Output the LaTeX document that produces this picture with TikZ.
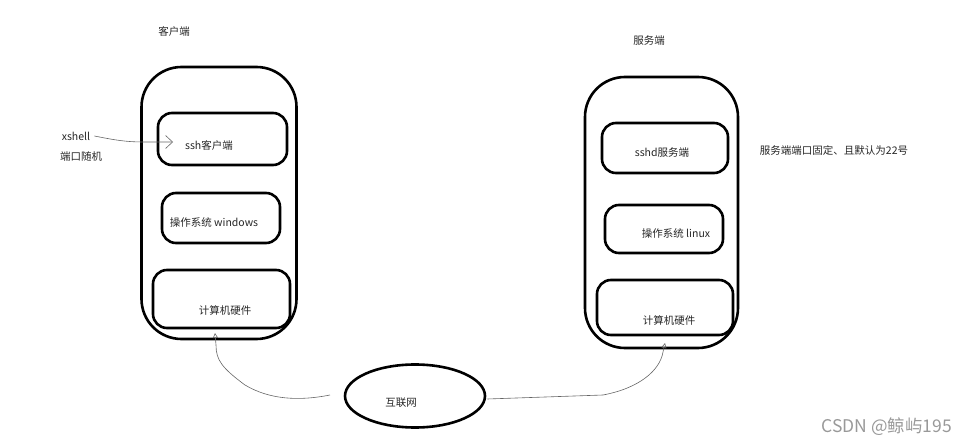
\documentclass[tikz,border=0pt]{standalone}
\usepackage{fontspec}
\setmainfont{Noto Sans CJK SC}
\usetikzlibrary{shapes.geometric,arrows.meta}
\tikzset{
  outerbox/.style={draw, line width=2.6pt, rounded corners=40pt, inner sep=0pt},
  innerbox/.style={draw, line width=2.6pt, rounded corners=14pt, inner sep=0pt},
  lbl/.style={font=\fontsize{10.5pt}{12pt}\selectfont, text=black!85, inner sep=0pt},
  wire/.style={draw=black!60, line width=0.6pt},
  uptip/.style={-{Triangle[open,length=5pt,width=5pt]}},
}
\begin{document}
\begin{tikzpicture}[x=1pt,y=-1pt]
\useasboundingbox (0,0) rectangle (954,444);
% client
\node[lbl] (clab) at (174,31) {客户端};
\node[outerbox, minimum width=155pt, minimum height=272pt] (cout) at (219,203) {};
\node[innerbox, minimum width=129pt, minimum height=52pt] (cssh) at (222.5,139) {};
\node[innerbox, minimum width=118pt, minimum height=50pt] (cos) at (221,218) {};
\node[innerbox, minimum width=137pt, minimum height=58pt] (chw) at (221.5,299) {};
\node[lbl] (tcssh) at (209,145) {ssh客户端};
\node[lbl] (tcos) at (214,222) {操作系统 windows};
\node[lbl] (tchw) at (225,310) {计算机硬件};
\node[lbl] (xsh) at (76,136) {xshell};
\node[lbl] (port) at (81,157) {端口随机};
\coordinate (xtip) at (173,142);
\draw[wire, -{Straight Barb[length=7pt,width=13pt]}] (xsh.east) ++(4,0) .. controls (115,140) and (125,142) .. (145,142) -- (xtip);
% server
\node[lbl] (slab) at (649,41) {服务端};
\node[outerbox, minimum width=153pt, minimum height=271pt] (sout) at (661.5,212.5) {};
\node[innerbox, minimum width=126pt, minimum height=50pt] (sssh) at (665,148) {};
\node[innerbox, minimum width=118pt, minimum height=48pt] (sos) at (664,229) {};
\node[innerbox, minimum width=136pt, minimum height=55pt] (shw) at (665,307.5) {};
\node[lbl] (tsssh) at (662,153) {sshd服务端};
\node[lbl] (tsos) at (676,233) {操作系统 linux};
\node[lbl] (tshw) at (669,320) {计算机硬件};
\node[lbl] (note) at (834,150) {服务端端口固定、且默认为22号};
% internet
\node[draw, ellipse, line width=2.6pt, minimum width=140pt, minimum height=63pt, inner sep=0pt] (net) at (415,396) {};
\node[lbl] (tnet) at (401,403) {互联网};
\coordinate (lend) at (330,395);
\coordinate (ltip) at (215,333);
\coordinate (rtip) at (665,343);
\draw[wire, uptip] (lend) .. controls (300,401) and (270,400) .. (245,385) .. controls (222,368) and (216,360) .. (216,345) -- (ltip);
\draw[wire, uptip] (net.east) ++(1,3) -- (603,395) .. controls (640,388) and (660,370) .. (663,352) -- (rtip);
% watermark
\node[font=\fontsize{17.5pt}{19pt}\selectfont, text=black!40, inner sep=0pt, anchor=east] (wm) at (952,427) {CSDN @鲸屿195};
\end{tikzpicture}
\end{document}
